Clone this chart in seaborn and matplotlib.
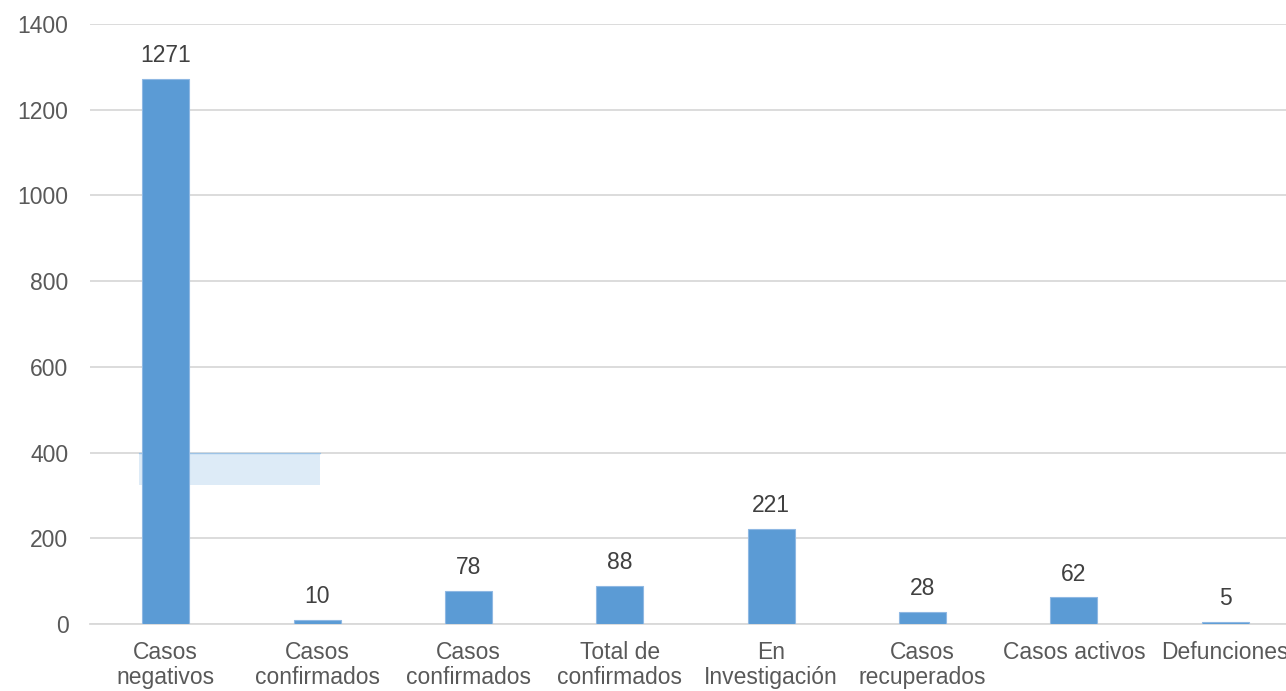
import matplotlib
matplotlib.use("Agg")
import matplotlib.pyplot as plt
import seaborn as sns
import pandas as pd
from matplotlib.patches import Rectangle

categories = ["Casos\nnegativos", "Casos\nconfirmados", "Casos\nconfirmados",
              "Total de\nconfirmados", "En\nInvestigación", "Casos\nrecuperados",
              "Casos activos", "Defunciones"]
values = [1271, 10, 78, 88, 221, 28, 62, 5]
yticks = [0, 200, 400, 600, 800, 1000, 1200, 1400]

sns.set_theme(style="white")
plt.rcParams['font.family'] = ['Liberation Sans', 'DejaVu Sans']

keys = [f"k{i}" for i in range(len(categories))]
df = pd.DataFrame({"key": keys, "value": values})

fig = plt.figure(figsize=(12.86, 6.91), dpi=100)
ax = fig.add_axes([90/1286, 1 - 624/691, 1211/1286, 600/691])
ax.set_facecolor("white")

sns.barplot(data=df, x="key", y="value", order=keys, color="#5B9BD5",
            width=0.31, saturation=1, ax=ax, zorder=3,
            edgecolor="#8FB8E3", linewidth=0.8)

FS = 16.5
ax.set_ylim(0, 1400)
ax.set_xlim(-0.5, len(keys) - 0.5)
ax.set_yticks(yticks)
ax.set_yticklabels([str(t) for t in yticks])
ax.set_xticks(range(len(keys)))
ax.set_xticklabels(categories, linespacing=1.12)
ax.set_xlabel("")
ax.set_ylabel("")

ax.yaxis.grid(True, color="#D9D9D9", linewidth=1.3, zorder=0)
ax.set_axisbelow(True)
for s in ["top", "right", "left"]:
    ax.spines[s].set_visible(False)
ax.spines["bottom"].set_color("#D9D9D9")
ax.spines["bottom"].set_linewidth(1.3)

ax.tick_params(axis="y", length=0, pad=15.5, labelsize=FS, labelcolor="#595959")
ax.tick_params(axis="x", length=0, pad=12, labelsize=FS, labelcolor="#595959")

for i, v in enumerate(values):
    ax.annotate(str(v), xy=(i, v), xytext=(0, 8.5), textcoords="offset points",
                ha="center", va="bottom", fontsize=FS, color="#404040")

# light highlight box seen in the reference
ax.add_patch(Rectangle(((139 - 90) / 1211, (624 - 485) / 600), (320 - 139) / 1211,
                       (485 - 453) / 600, transform=ax.transAxes,
                       facecolor="#DDEBF7", edgecolor="none", zorder=2))
ax.plot([(139 - 90) / 1211, (320 - 90) / 1211], [(624 - 453) / 600] * 2,
        transform=ax.transAxes, color="#9DC3E6", linewidth=1, zorder=2)

fig.savefig("out.png", dpi=100)
